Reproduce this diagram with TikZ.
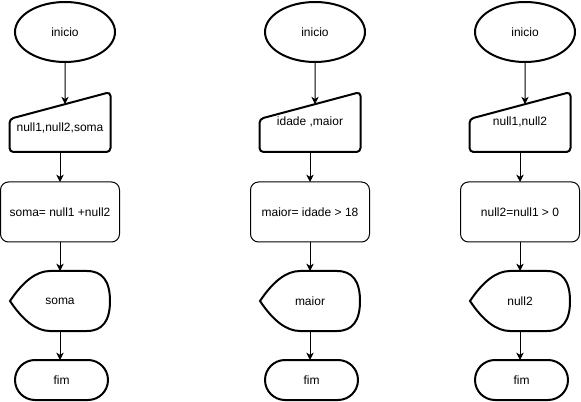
\documentclass[tikz,border=0pt]{standalone}
\usepackage{fontspec}
\setmainfont{Liberation Sans}
\usetikzlibrary{arrows.meta,calc,shapes.geometric}
\tikzset{
  boldline/.style={draw=black,line width=1.5pt},
  thinline/.style={draw=black,line width=0.75pt},
  txt/.style={font=\fontsize{9pt}{11pt}\selectfont,inner sep=0pt,text=black},
  box/.style={inner sep=0pt,outer sep=0pt},
  arr/.style={line width=0.75pt,-{Stealth[length=5.5pt,width=5.5pt,inset=1.6pt]}},
  startnode/.style={boldline,ellipse,minimum width=75pt,minimum height=45pt,txt,outer sep=0pt},
  procnode/.style={thinline,rounded corners=6pt,minimum width=89.25pt,minimum height=45pt,txt,outer sep=0pt},
  endnode/.style={boldline,rounded corners=15pt,minimum width=69.75pt,minimum height=30pt,txt,outer sep=0pt},
}
\newcommand\flowcolumn[6]{%
  \begin{scope}[shift={(#1,0)}]
    \node[startnode] (ini#2) at (65,32) {inicio};
    % manual input
    \node[box,minimum width=75.75pt,minimum height=45pt] (man#2) at (60,122) {};
    \draw[boldline,rounded corners=3pt,shift={(man#2.north west)}]
      (0,60) -- (0,27) -- (101,0) -- (101,60) -- cycle;
    \coordinate (mtl#2) at ($(man#2.north west)+(0,27)$);
    \coordinate (mtop#2) at ($(mtl#2)!0.5495!(man#2.north east)$);
    \node[txt] (mant#2) at (60,#4) {#3};
    % process
    \node[procnode] (proc#2) at (60,212) {#5};
    % display
    \node[box,txt,minimum width=75pt,minimum height=45pt] (disp#2) at (60,301) {#6};
    \draw[boldline,shift={(disp#2.north west)}]
      (0,30) .. controls (13.33,10) and (26.67,0) .. (40,0) -- (77,0)
      .. controls (92.33,0) and (100,10) .. (100,30)
      .. controls (100,50) and (92.33,60) .. (77,60) -- (40,60)
      .. controls (26.67,60) and (13.33,50) .. cycle;
    % terminator
    \node[endnode] (fim#2) at (61.5,380) {fim};
    % connectors
    \draw[arr] (ini#2) -- (mtop#2);
    \draw[arr] (man#2.south) -- (proc#2.north);
    \draw[arr] (proc#2.south) -- (disp#2.north);
    \draw[arr] (disp#2.south) -- (disp#2.south |- fim#2.north);
  \end{scope}}
\begin{document}
\begin{tikzpicture}[x=0.75pt,y=-0.75pt]
  \useasboundingbox (0,0) rectangle (581,402);
  \flowcolumn{0}{a}{null1,null2,soma}{128}{soma= null1 +null2}{soma}
  \flowcolumn{250}{b}{idade ,maior}{122}{maior= idade {\textgreater} 18}{maior}
  \flowcolumn{460}{c}{null1,null2}{122}{null2=null1 {\textgreater} 0}{null2}
\end{tikzpicture}
\end{document}
